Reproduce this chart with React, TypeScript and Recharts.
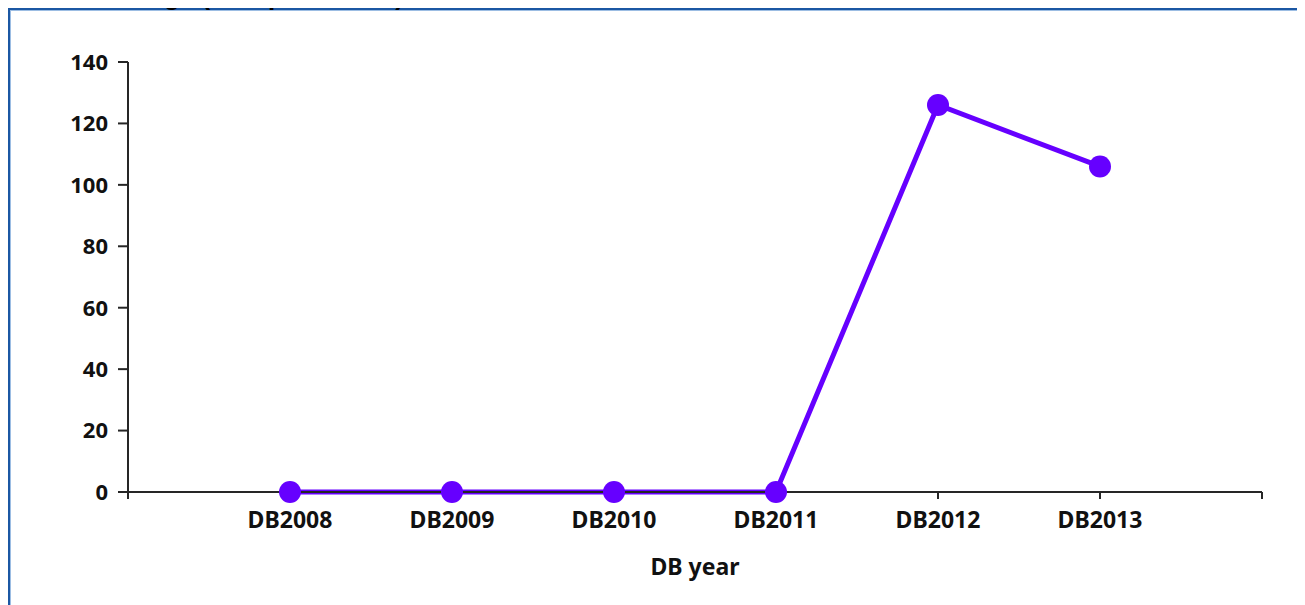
import React from 'react'
import { LineChart, Line, XAxis, YAxis } from 'recharts'

// Minimum wage (US$ per month) by Doing Business report year
const YEARS = ['DB2008', 'DB2009', 'DB2010', 'DB2011', 'DB2012', 'DB2013']
const WAGE = [0, 0, 0, 0, 126, 106]
const Y_TICKS = [0, 20, 40, 60, 80, 100, 120, 140]
// categories sit on slots 1..6 of a 0..7 axis, so both ends keep a blank gap
const X_TICKS = [0, 1, 2, 3, 4, 5, 6, 7]

const rows = YEARS.map((year, i) => ({ slot: i + 1, year, wage: WAGE[i] }))

const FONT = '"Noto Sans", "DejaVu Sans", sans-serif'
const AXIS = '#262626'
const PURPLE = '#6600FF'

const yTickStyle = { fontFamily: FONT, fontSize: 22, fontWeight: 700, fill: '#111' }
const xTickStyle = { ...yTickStyle, fontSize: 23 }

export default function App() {
  return (
    <div style={{ position: 'relative', width: 1297, height: 597 }}>
      <div style={{ position: 'absolute', inset: 0, overflow: 'hidden' }}>
        <div
          style={{
            width: 1340,
            height: 640,
            borderLeft: '2px solid #1b57a3',
            borderTop: '2px solid #1b57a3',
            boxShadow: 'inset 1px 1px 0 #9cbde3',
            background: '#fff',
          }}
        >
          <LineChart width={1295} height={595} data={rows} margin={{ top: 52, right: 43, bottom: 53, left: 58 }}>
            <Line
              type="linear"
              dataKey="wage"
              stroke={PURPLE}
              strokeWidth={5}
              dot={{ r: 11, fill: PURPLE, stroke: 'none' }}
              activeDot={false}
              isAnimationActive={false}
            />
            <YAxis
              type="number"
              domain={[0, 140]}
              ticks={Y_TICKS}
              width={60}
              interval={0}
              tick={yTickStyle}
              tickSize={10}
              tickMargin={10}
              stroke={AXIS}
              strokeWidth={2}
            />
            <XAxis
              dataKey="slot"
              type="number"
              domain={[0, 7]}
              ticks={X_TICKS}
              interval={0}
              height={60}
              tickFormatter={(v: number) => YEARS[v - 1] ?? ''}
              tick={xTickStyle}
              tickSize={7}
              tickMargin={13}
              stroke={AXIS}
              strokeWidth={2}
              label={{ value: 'DB year', position: 'bottom', offset: 7, style: { ...xTickStyle } }}
            />
          </LineChart>
        </div>
      </div>
      {/* title sits mostly above the page, only its lower part shows */}
      <div
        style={{
          position: 'absolute',
          left: 0,
          top: -27.5,
          fontFamily: '"Liberation Sans", Arial, sans-serif',
          fontSize: 26,
          fontWeight: 700,
          color: '#000',
          whiteSpace: 'nowrap',
        }}
      >
        Minimum wage (US$ per month)
      </div>
    </div>
  )
}
